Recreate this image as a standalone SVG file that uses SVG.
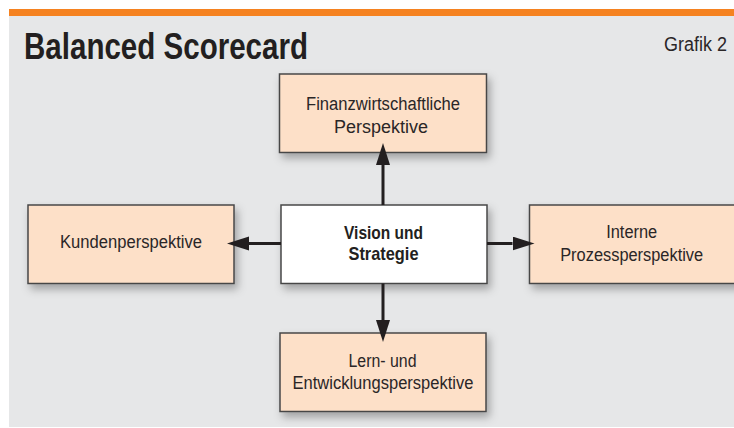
<svg xmlns="http://www.w3.org/2000/svg" width="734" height="428" viewBox="0 0 734 428">
  <style>
    .box { stroke: #474747; stroke-width: 1.5; filter: url(#shadow); }
    .persp { fill: #fde0c8; }
    .core { fill: #ffffff; }
    .lbl { font-family: "Liberation Sans", Arial, sans-serif; font-size: 18px; fill: #2a2627; text-anchor: middle; }
    .lbl-b { font-family: "Liberation Sans", Arial, sans-serif; font-size: 19px; font-weight: bold; fill: #231f20; text-anchor: middle; }
    .conn { stroke: #231f20; stroke-width: 3; fill: none; marker-end: url(#head); }
  </style>
  <defs>
    <filter id="shadow" x="-20%" y="-30%" width="150%" height="170%">
      <feDropShadow dx="3" dy="5" stdDeviation="4" flood-color="#000" flood-opacity="0.3"/>
    </filter>
    <marker id="head" markerUnits="userSpaceOnUse" markerWidth="24" markerHeight="16" refX="0" refY="7" orient="auto">
      <path d="M0,0 L22,7 L0,14 Z" fill="#231f20"/>
    </marker>
  </defs>

  <!-- frame -->
  <rect x="0" y="0" width="734" height="428" fill="#ffffff"/>
  <rect x="9" y="16" width="725" height="411" fill="#e6e7e8"/>
  <rect x="9" y="9" width="725" height="7" fill="#f58220"/>

  <!-- heading -->
  <text x="24" y="59" font-family="'Liberation Sans', Arial, sans-serif" font-size="36" font-weight="bold" fill="#231f20" textLength="284" lengthAdjust="spacingAndGlyphs">Balanced Scorecard</text>
  <text x="664" y="51" font-family="'Liberation Sans', Arial, sans-serif" font-size="20" fill="#2a2627" textLength="63" lengthAdjust="spacingAndGlyphs">Grafik 2</text>

  <!-- nodes -->
  <g id="finanz">
    <rect class="box persp" x="279.5" y="74" width="207" height="78.5"/>
    <text class="lbl" x="383" y="110" textLength="154" lengthAdjust="spacingAndGlyphs">Finanzwirtschaftliche</text>
    <text class="lbl" x="381" y="133" textLength="94" lengthAdjust="spacingAndGlyphs">Perspektive</text>
  </g>
  <g id="kunden">
    <rect class="box persp" x="28" y="205" width="206" height="78.5"/>
    <text class="lbl" x="131" y="248" textLength="142" lengthAdjust="spacingAndGlyphs">Kundenperspektive</text>
  </g>
  <g id="vision">
    <rect class="box core" x="281" y="205" width="206" height="78.5"/>
    <text class="lbl-b" x="383.5" y="239" textLength="79" lengthAdjust="spacingAndGlyphs">Vision und</text>
    <text class="lbl-b" x="383.5" y="260" textLength="70" lengthAdjust="spacingAndGlyphs">Strategie</text>
  </g>
  <g id="intern">
    <rect class="box persp" x="529.5" y="205" width="210" height="78.5"/>
    <text class="lbl" x="631.7" y="238" textLength="51" lengthAdjust="spacingAndGlyphs">Interne</text>
    <text class="lbl" x="631.7" y="261" textLength="143" lengthAdjust="spacingAndGlyphs">Prozessperspektive</text>
  </g>
  <g id="lernen">
    <rect class="box persp" x="280" y="333" width="206" height="78.5"/>
    <text class="lbl" x="382.5" y="367" textLength="68" lengthAdjust="spacingAndGlyphs">Lern- und</text>
    <text class="lbl" x="383" y="389" textLength="181" lengthAdjust="spacingAndGlyphs">Entwicklungsperspektive</text>
  </g>

  <!-- connectors -->
  <g id="connectors">
    <line class="conn" x1="383" y1="205" x2="383" y2="165"/>
    <line class="conn" x1="281" y1="243.5" x2="249" y2="243.5"/>
    <line class="conn" x1="487" y1="243.5" x2="512.5" y2="243.5"/>
    <line class="conn" x1="383" y1="283.5" x2="383" y2="320"/>
  </g>
</svg>
